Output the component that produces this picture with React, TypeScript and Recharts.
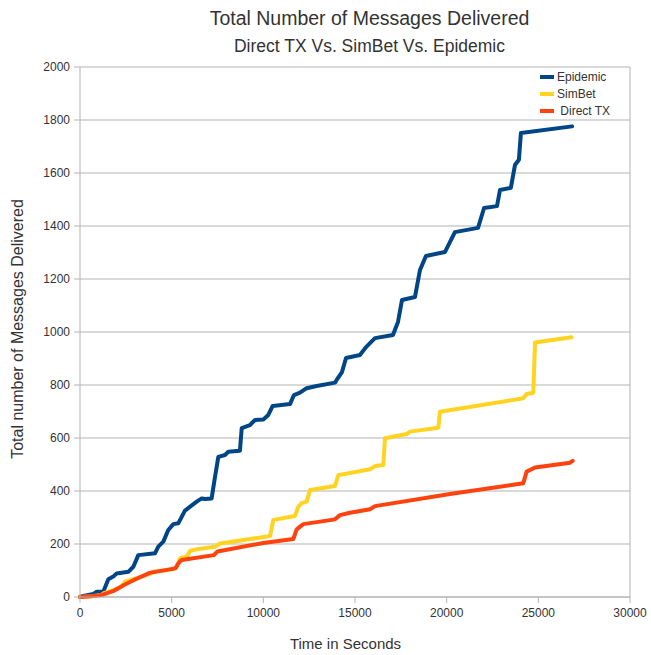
import { LineChart, Line, XAxis, YAxis, CartesianGrid, ReferenceLine } from "recharts";

// time (s) and delivered message counts
const epidemicT = [0, 180, 725, 910, 1270, 1545, 1815, 2000, 2635, 2910, 3180, 4090, 4270, 4545, 4815, 5090, 5360, 5725, 6365, 6640, 6820, 7180, 7365, 7545, 7910, 8090, 8725, 8820, 9270, 9545, 10000, 10270, 10510, 11455, 11670, 12000, 12365, 12910, 13910, 14000, 14290, 14510, 15270, 15600, 16090, 17070, 17345, 17565, 18270, 18545, 18870, 19910, 20450, 21710, 22040, 22745, 22910, 23500, 23725, 23940, 24050, 26840];
const epidemicV = [0, 4, 11, 20, 20, 67, 77, 89, 95, 114, 158, 165, 190, 209, 253, 275, 278, 326, 360, 372, 370, 372, 454, 529, 536, 548, 552, 637, 649, 668, 670, 687, 721, 728, 762, 771, 788, 796, 809, 819, 849, 902, 913, 943, 977, 989, 1038, 1121, 1132, 1234, 1287, 1302, 1377, 1393, 1468, 1475, 1536, 1544, 1630, 1650, 1751, 1776];

const simbetT = [0, 600, 1185, 1270, 1815, 2275, 2455, 3090, 3820, 4000, 5090, 5275, 5455, 5820, 6000, 6365, 7365, 7635, 10365, 10545, 11725, 11910, 12090, 12365, 12545, 13910, 14090, 15820, 16090, 16545, 16635, 17820, 18000, 19545, 19635, 24180, 24360, 24725, 24820, 26820];
const simbetV = [0, 3, 8, 14, 26, 39, 58, 71, 87, 95, 105, 114, 146, 152, 174, 180, 190, 202, 230, 291, 306, 341, 354, 360, 404, 419, 460, 482, 494, 498, 599, 615, 624, 639, 699, 750, 766, 771, 960, 980];

const directT = [0, 600, 1200, 1800, 2400, 3000, 3800, 5200, 5400, 5550, 7300, 7500, 10000, 11635, 11820, 12180, 13910, 14180, 14725, 15820, 16090, 20180, 24180, 24360, 24820, 26730, 26870];
const directV = [0, 3, 8, 22, 45, 66, 91, 108, 130, 140, 158, 172, 204, 219, 255, 275, 293, 309, 318, 331, 343, 389, 429, 473, 489, 507, 514];

const xTicks = [0, 5000, 10000, 15000, 20000, 25000, 30000];
const yTicks = [0, 200, 400, 600, 800, 1000, 1200, 1400, 1600, 1800, 2000];

const toRows = (t: number[], v: number[]) => t.map((x, i) => ({ t: x, v: v[i] }));

const SERIES = [
  { name: "Epidemic", color: "#004586", data: toRows(epidemicT, epidemicV) },
  { name: "SimBet", color: "#ffd320", data: toRows(simbetT, simbetV) },
  { name: "Direct TX", color: "#ff420e", data: toRows(directT, directV) },
];

const FONT = "'Liberation Sans', Arial, sans-serif";
const GRID = "#b3b3b3";

function LegendBox() {
  return (
    <div style={{ position: "absolute", left: 540, top: 68, fontSize: 12, color: "#333" }}>
      {SERIES.map((s) => (
        <div key={s.name} style={{ display: "flex", alignItems: "center", height: 17 }}>
          <span style={{ display: "inline-block", width: 14, height: 4, background: s.color, marginRight: 3 }} />
          <span>{s.name === "Direct TX" ? "\u00a0Direct TX" : s.name}</span>
        </div>
      ))}
    </div>
  );
}

export default function App() {
  return (
    <div style={{ position: "absolute", left: 0, top: 0, width: 651, height: 655, background: "#fff", fontFamily: FONT }}>
      <div style={{ position: "absolute", top: 7, left: 44, width: 651, textAlign: "center", fontSize: 19.5, color: "#333" }}>
        Total Number of Messages Delivered
      </div>
      <div style={{ position: "absolute", top: 36, left: 44, width: 651, textAlign: "center", fontSize: 17.5, color: "#333" }}>
        Direct TX Vs. SimBet Vs. Epidemic
      </div>
      <div style={{ position: "absolute", top: 635, width: 651, left: 20, textAlign: "center", fontSize: 15, color: "#333" }}>
        Time in Seconds
      </div>
      <div
        style={{
          position: "absolute",
          left: 18,
          top: 329,
          fontSize: 16,
          color: "#333",
          whiteSpace: "nowrap",
          transform: "translate(-50%, -50%) rotate(-90deg)",
        }}
      >
        Total number of Messages Delivered
      </div>
      <LineChart width={651} height={655} margin={{ top: 67, right: 21, bottom: 28, left: 0 }}>
        <CartesianGrid stroke={GRID} vertical={false} />
        <XAxis
          type="number"
          dataKey="t"
          domain={[0, 30000]}
          ticks={xTicks}
          height={30}
          stroke={GRID}
          tickSize={6}
          tickMargin={5}
          tick={{ fill: "#333", fontSize: 12, fontFamily: FONT }}
          allowDuplicatedCategory={false}
        />
        <YAxis
          type="number"
          domain={[0, 2000]}
          ticks={yTicks}
          width={80}
          stroke={GRID}
          tickSize={6}
          tickMargin={4}
          tick={{ fill: "#333", fontSize: 12, fontFamily: FONT }}
        />
        <ReferenceLine x={30000} stroke={GRID} />
        {SERIES.map((s) => (
          <Line
            key={s.name}
            data={s.data}
            dataKey="v"
            name={s.name}
            type="linear"
            stroke={s.color}
            strokeWidth={4}
            strokeLinejoin="round"
            strokeLinecap="round"
            dot={false}
            isAnimationActive={false}
          />
        ))}
      </LineChart>
      <LegendBox />
    </div>
  );
}
